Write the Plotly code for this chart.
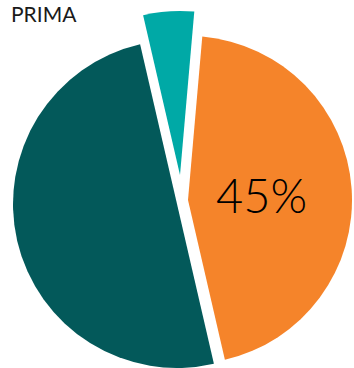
import plotly.graph_objects as go

# Share of responses
labels = ["A", "B", "C"]
values = [45, 50, 5]
colors = ["#F5842A", "#03595A", "#00A9A6"]
title_text = "PRIMA"
labelled_slice = 0

W, H = 354, 368
R = 164
# each slice is drawn as its own pie so it can be offset (exploded) freely;
# centres are the slice apexes in pixels (x from left, y from top)
centres = [(188, 200), (177, 204), (180, 175)]

fig = go.Figure()
for i, (cx, cy) in enumerate(centres):
    x0 = max(0.0, (cx - R) / W)
    x1 = min(1.0, (cx + R) / W)
    y0 = max(0.0, 1 - (cy + R) / H)
    y1 = min(1.0, 1 - (cy - R) / H)
    slice_colors = ["rgba(0,0,0,0)"] * len(values)
    slice_colors[i] = colors[i]
    fig.add_trace(go.Pie(
        labels=labels,
        values=values,
        sort=False,
        direction="clockwise",
        rotation=5,
        marker=dict(colors=slice_colors, line=dict(width=0)),
        domain=dict(x=[x0, x1], y=[y0, y1]),
        textinfo="none",
        hoverinfo="skip",
        showlegend=False,
    ))

# percentage label for the orange slice
share = values[labelled_slice] / sum(values)
fig.add_annotation(
    text=f"{share:.0%}",
    xref="paper", yref="paper",
    x=261 / W, y=1 - 195 / H,
    xanchor="center", yanchor="middle",
    showarrow=False,
    font=dict(family="Lato", size=47, color="#000000", weight=300),
)

fig.add_annotation(
    text=title_text,
    xref="paper", yref="paper",
    x=10 / W, y=1.0,
    xanchor="left", yanchor="top",
    borderpad=0,
    showarrow=False,
    font=dict(family="Lato", size=21, color="#1a1a1a"),
)

fig.update_layout(
    width=W, height=H,
    margin=dict(l=0, r=0, t=0, b=0),
    paper_bgcolor="white",
    plot_bgcolor="white",
)

fig.write_html("out.html")
